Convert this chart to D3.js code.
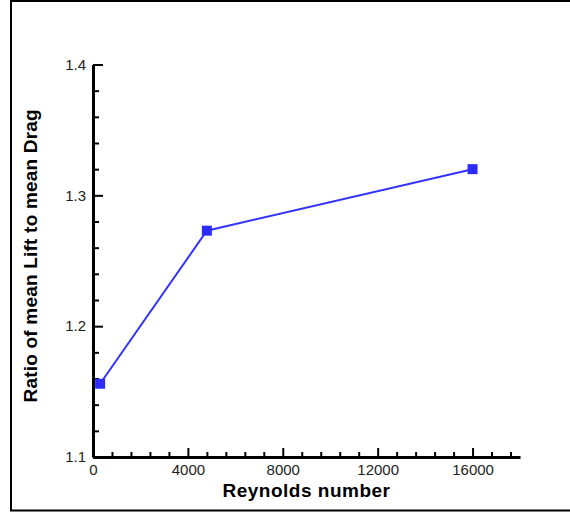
<!DOCTYPE html>
<html>
<head>
<meta charset="utf-8">
<script src="https://cdn.jsdelivr.net/npm/d3@7"></script>
<style>
  body { margin: 0; background: #fff; }
  svg { display: block; font-family: 'Liberation Sans', Arial, sans-serif; }
  .title { font-size: 19px; font-weight: bold; fill: #000; }
</style>
</head>
<body>
<div id="chart"></div>
<script>
/* global d3 */
var reynolds = [300, 4800, 16000]
var ratio = [1.156, 1.273, 1.320]

var xMajor = [0, 4000, 8000, 12000, 16000]
var yMajor = [1.1, 1.2, 1.3, 1.4]
var xTitle = 'Reynolds number'
var yTitle = 'Ratio of mean Lift to mean Drag'

var width = 570
var height = 512
var margin = { top: 64.5, right: 50, bottom: 55, left: 93 }

var svg = d3.select('#chart').append('svg')
  .attr('width', width)
  .attr('height', height)

// frame round the plot (open on the right side)
svg.append('rect')
  .attr('x', 11)
  .attr('y', 1)
  .attr('width', 620)
  .attr('height', 509.5)
  .style('fill', 'none')
  .style('stroke', '#000')
  .style('stroke-width', 2)

var x = d3.scaleLinear()
  .domain([0, 18000])
  .range([margin.left, width - margin.right])

var y = d3.scaleLinear()
  .domain([1.1, 1.4])
  .range([height - margin.bottom, margin.top])

var xMinor = d3.range(0, 18001, 800).filter(function (d) { return d % 4000 !== 0 })
var yMinor = d3.range(0, 16).map(function (i) { return 1.1 + i * 0.02 })
  .filter(function (d, i) { return i % 5 !== 0 })

// minor ticks
svg.append('g')
  .attr('transform', 'translate(0,' + y(1.1) + ')')
  .call(d3.axisBottom(x).tickValues(xMinor).tickSizeInner(-5).tickSizeOuter(0).tickFormat(''))
  .call(function (g) { g.select('.domain').remove() })
  .selectAll('line').style('stroke-width', 2)

svg.append('g')
  .attr('transform', 'translate(' + x(0) + ',0)')
  .call(d3.axisLeft(y).tickValues(yMinor).tickSizeInner(-6).tickSizeOuter(0).tickFormat(''))
  .call(function (g) { g.select('.domain').remove() })
  .selectAll('line').style('stroke-width', 2)

// major ticks + labels
function styleAxis (g) {
  g.selectAll('text')
    .style('font-size', '15px')
    .style('font-family', "'Liberation Sans', Arial, sans-serif")
    .style('fill', '#222')
  g.selectAll('line').style('stroke-width', 2)
  g.select('.domain').style('stroke-width', 3)
}

svg.append('g')
  .attr('transform', 'translate(0,' + y(1.1) + ')')
  .call(d3.axisBottom(x).tickValues(xMajor).tickSizeInner(-9).tickSizeOuter(0).tickPadding(7).tickFormat(d3.format('d')))
  .call(styleAxis)

svg.append('g')
  .attr('transform', 'translate(' + x(0) + ',0)')
  .call(d3.axisLeft(y).tickValues(yMajor).tickSizeInner(-10).tickSizeOuter(0).tickPadding(7).tickFormat(d3.format('.1f')))
  .call(styleAxis)

// series
var pts = reynolds.map(function (d, i) { return [d, ratio[i]] })

svg.append('path')
  .datum(pts)
  .attr('d', d3.line().x(function (d) { return x(d[0]) }).y(function (d) { return y(d[1]) }))
  .style('fill', 'none')
  .style('stroke', '#3333ff')
  .style('stroke-width', 2)

svg.selectAll('.marker')
  .data(pts)
  .enter().append('rect')
  .attr('class', 'marker')
  .attr('x', function (d) { return x(d[0]) - 5 })
  .attr('y', function (d) { return y(d[1]) - 5 })
  .attr('width', 10)
  .attr('height', 10)
  .style('fill', '#2b2bff')

// titles
svg.append('text')
  .attr('class', 'title')
  .attr('x', (x.range()[0] + x.range()[1]) / 2)
  .attr('y', 497)
  .style('text-anchor', 'middle')
  .style('letter-spacing', '0.5px')
  .text(xTitle)

svg.append('text')
  .attr('class', 'title')
  .attr('transform', 'translate(37,' + ((y.range()[0] + y.range()[1]) / 2 - 5) + ') rotate(-90)')
  .style('text-anchor', 'middle')
  .style('letter-spacing', '0.2px')
  .text(yTitle)
</script>
</body>
</html>
